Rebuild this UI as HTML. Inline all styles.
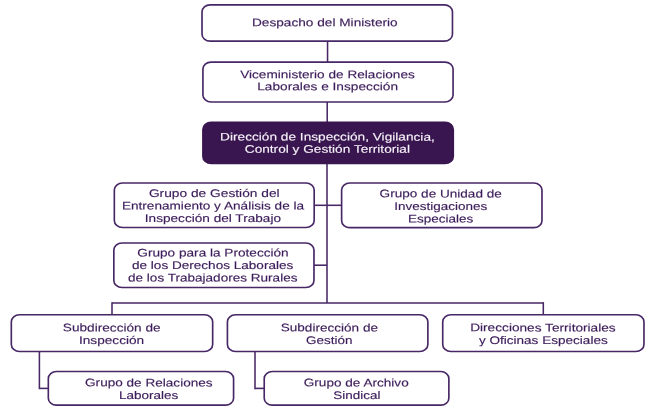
<!DOCTYPE html><html><head><meta charset="utf-8"><style>
html,body{margin:0;padding:0;background:#fff;}
body{width:655px;height:414px;position:relative;overflow:hidden;font-family:"Liberation Sans",sans-serif;}
#all{position:absolute;left:0;top:0;width:655px;height:414px;filter:blur(0.3px);}
.f{background:#3a1650;border-color:#3a1650;}
svg{position:absolute;left:0;top:0;}
.t{position:absolute;white-space:nowrap;font-size:11.0px;line-height:12.0px;color:#3c1c5a;-webkit-text-stroke:0.14px #3c1c5a;}
.w{color:#f6f2f9;-webkit-text-stroke:0.12px #f6f2f9;}
</style></head><body><div id="all">
<svg width="655" height="414" viewBox="0 0 655 414">
<line x1="327.55" y1="41" x2="327.55" y2="62" stroke="#472765" stroke-width="1.55"/>
<line x1="327.2" y1="102" x2="327.2" y2="123" stroke="#472765" stroke-width="1.55"/>
<line x1="327" y1="163" x2="327" y2="302.9" stroke="#472765" stroke-width="1.55"/>
<line x1="314" y1="205.3" x2="341.5" y2="205.3" stroke="#472765" stroke-width="1.55"/>
<line x1="314" y1="265.2" x2="327" y2="265.2" stroke="#472765" stroke-width="1.55"/>
<line x1="112.0" y1="302.9" x2="543.3" y2="302.9" stroke="#472765" stroke-width="1.55"/>
<line x1="112.0" y1="302.125" x2="112.0" y2="315" stroke="#472765" stroke-width="1.55"/>
<line x1="543.3" y1="302.125" x2="543.3" y2="315" stroke="#472765" stroke-width="1.55"/>
<line x1="39.4" y1="351" x2="39.4" y2="389.17499999999995" stroke="#472765" stroke-width="1.55"/>
<line x1="39.4" y1="388.4" x2="48.5" y2="388.4" stroke="#472765" stroke-width="1.55"/>
<line x1="255.0" y1="351" x2="255.0" y2="389.17499999999995" stroke="#472765" stroke-width="1.55"/>
<line x1="255.0" y1="388.4" x2="264.3" y2="388.4" stroke="#472765" stroke-width="1.55"/>
</svg>
<svg width="655" height="414" viewBox="0 0 655 414">
<rect x="202.02" y="4.83" width="250.45" height="36.35" rx="8.175" ry="6.975" fill="#fff" stroke="#472765" stroke-width="1.65"/>
<rect x="202.92" y="62.12" width="250.15" height="39.85" rx="8.175" ry="6.975" fill="#fff" stroke="#472765" stroke-width="1.65"/>
<rect x="202.92" y="122.42" width="250.35" height="40.95" rx="8.175" ry="6.975" fill="#3a1650" stroke="#3a1650" stroke-width="1.65"/>
<rect x="114.33" y="183.02" width="199.85" height="44.45" rx="8.175" ry="6.975" fill="#fff" stroke="#472765" stroke-width="1.65"/>
<rect x="341.62" y="183.02" width="200.35" height="44.65" rx="8.175" ry="6.975" fill="#fff" stroke="#472765" stroke-width="1.65"/>
<rect x="113.83" y="243.02" width="200.15" height="44.45" rx="8.175" ry="6.975" fill="#fff" stroke="#472765" stroke-width="1.65"/>
<rect x="11.32" y="314.72" width="201.35" height="36.75" rx="8.175" ry="6.975" fill="#fff" stroke="#472765" stroke-width="1.65"/>
<rect x="227.42" y="314.72" width="200.45" height="36.75" rx="8.175" ry="6.975" fill="#fff" stroke="#472765" stroke-width="1.65"/>
<rect x="442.72" y="314.72" width="201.25" height="36.75" rx="8.175" ry="6.975" fill="#fff" stroke="#472765" stroke-width="1.65"/>
<rect x="48.33" y="371.52" width="185.25" height="33.65" rx="8.175" ry="6.975" fill="#fff" stroke="#472765" stroke-width="1.65"/>
<rect x="264.22" y="371.52" width="184.65" height="33.65" rx="8.175" ry="6.975" fill="#fff" stroke="#472765" stroke-width="1.65"/>
</svg>
<div class="t" style="left:324px;top:16px;transform:translate(calc(-50% + 0.8px),0.288px) scaleX(1.2414) rotate(0.03deg);">Despacho del Ministerio</div>
<div class="t" style="left:327px;top:68px;transform:translate(calc(-50% + 0.5px),0.189px) scaleX(1.2386) rotate(0.03deg);">Viceministerio de Relaciones</div>
<div class="t" style="left:327px;top:80px;transform:translate(calc(-50% + 0.63px),0.288px) scaleX(1.2444) rotate(0.03deg);">Laborales e Inspección</div>
<div class="t w" style="left:327px;top:130px;transform:translate(calc(-50% + 0.45px),0.589px) scaleX(1.242) rotate(0.03deg);">Dirección de Inspección, Vigilancia,</div>
<div class="t w" style="left:327px;top:142px;transform:translate(calc(-50% + 0.37px),0.839px) scaleX(1.2414) rotate(0.03deg);">Control y Gestión Territorial</div>
<div class="t" style="left:214px;top:187px;transform:translate(calc(-50% + 0.27px),0.089px) scaleX(1.2498) rotate(0.03deg);">Grupo de Gestión del</div>
<div class="t" style="left:213px;top:199px;transform:translate(calc(-50% + 0.0px),0.489px) scaleX(1.236) rotate(0.03deg);">Entrenamiento y Análisis de la</div>
<div class="t" style="left:212px;top:211px;transform:translate(calc(-50% + 0.92px),0.989px) scaleX(1.2369) rotate(0.03deg);">Inspección del Trabajo</div>
<div class="t" style="left:440px;top:187px;transform:translate(calc(-50% + 0.72px),0.388px) scaleX(1.234) rotate(0.03deg);">Grupo de Unidad de</div>
<div class="t" style="left:440px;top:199px;transform:translate(calc(-50% + 0.67px),0.989px) scaleX(1.227) rotate(0.03deg);">Investigaciones</div>
<div class="t" style="left:440px;top:212px;transform:translate(calc(-50% + 0.65px),0.589px) scaleX(1.2272) rotate(0.03deg);">Especiales</div>
<div class="t" style="left:213px;top:246px;transform:translate(calc(-50% + 0.02px),0.588px) scaleX(1.2378) rotate(0.03deg);">Grupo para la Protección</div>
<div class="t" style="left:212px;top:258px;transform:translate(calc(-50% + 0.63px),0.988px) scaleX(1.2327) rotate(0.03deg);">de los Derechos Laborales</div>
<div class="t" style="left:212px;top:271px;transform:translate(calc(-50% + 0.73px),0.588px) scaleX(1.2317) rotate(0.03deg);">de los Trabajadores Rurales</div>
<div class="t" style="left:111px;top:321px;transform:translate(calc(-50% + 0.72px),0.388px) scaleX(1.2388) rotate(0.03deg);">Subdirección de</div>
<div class="t" style="left:111px;top:333px;transform:translate(calc(-50% + 0.55px),0.988px) scaleX(1.2399) rotate(0.03deg);">Inspección</div>
<div class="t" style="left:329px;top:321px;transform:translate(calc(-50% + 0.35px),0.388px) scaleX(1.2338) rotate(0.03deg);">Subdirección de</div>
<div class="t" style="left:329px;top:333px;transform:translate(calc(-50% + 0.2px),0.988px) scaleX(1.2251) rotate(0.03deg);">Gestión</div>
<div class="t" style="left:542px;top:321px;transform:translate(calc(-50% + 0.93px),0.388px) scaleX(1.2419) rotate(0.03deg);">Direcciones Territoriales</div>
<div class="t" style="left:543px;top:333px;transform:translate(calc(-50% + 0.3px),0.988px) scaleX(1.2322) rotate(0.03deg);">y Oficinas Especiales</div>
<div class="t" style="left:148px;top:376px;transform:translate(calc(-50% + 0.82px),0.388px) scaleX(1.234) rotate(0.03deg);">Grupo de Relaciones</div>
<div class="t" style="left:148px;top:388px;transform:translate(calc(-50% + 0.68px),0.988px) scaleX(1.2286) rotate(0.03deg);">Laborales</div>
<div class="t" style="left:356px;top:376px;transform:translate(calc(-50% + 0.23px),0.388px) scaleX(1.2344) rotate(0.03deg);">Grupo de Archivo</div>
<div class="t" style="left:356px;top:388px;transform:translate(calc(-50% + 0.8px),0.988px) scaleX(1.2251) rotate(0.03deg);">Sindical</div>
</div></body></html>
